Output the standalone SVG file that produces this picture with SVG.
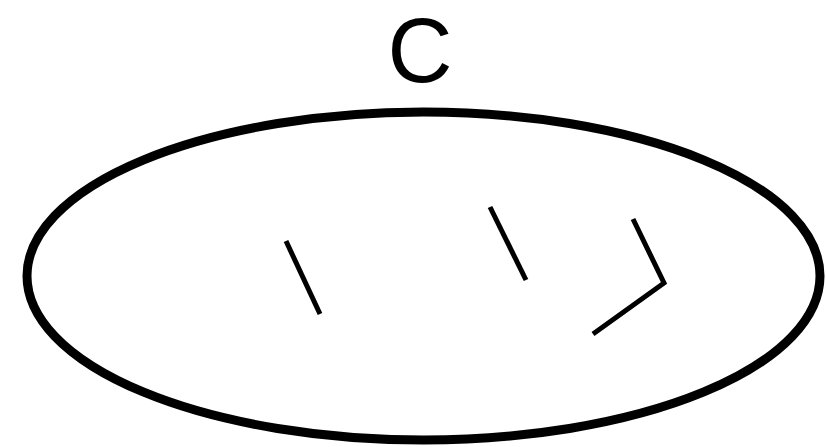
<svg xmlns="http://www.w3.org/2000/svg" width="826" height="447" viewBox="0 0 826 447">
<style>
.shape{fill:none;stroke:#000;stroke-width:9}
.mark{fill:none;stroke:#000;stroke-width:5}
.label{font-family:"Liberation Sans",Arial,sans-serif;font-size:90px;fill:#000;text-anchor:middle}
</style>
<rect width="826" height="447" fill="#fff"/>
<g id="C">
<text class="label" x="420" y="82">C</text>
<ellipse class="shape" cx="423.5" cy="276" rx="396.5" ry="164"/>
</g>
<g id="connectors">
<line class="mark" x1="286" y1="241" x2="320" y2="314"/>
<line class="mark" x1="490" y1="207" x2="526" y2="280"/>
<polyline class="mark" points="633,219 664,283 593,334"/>
</g>
</svg>
